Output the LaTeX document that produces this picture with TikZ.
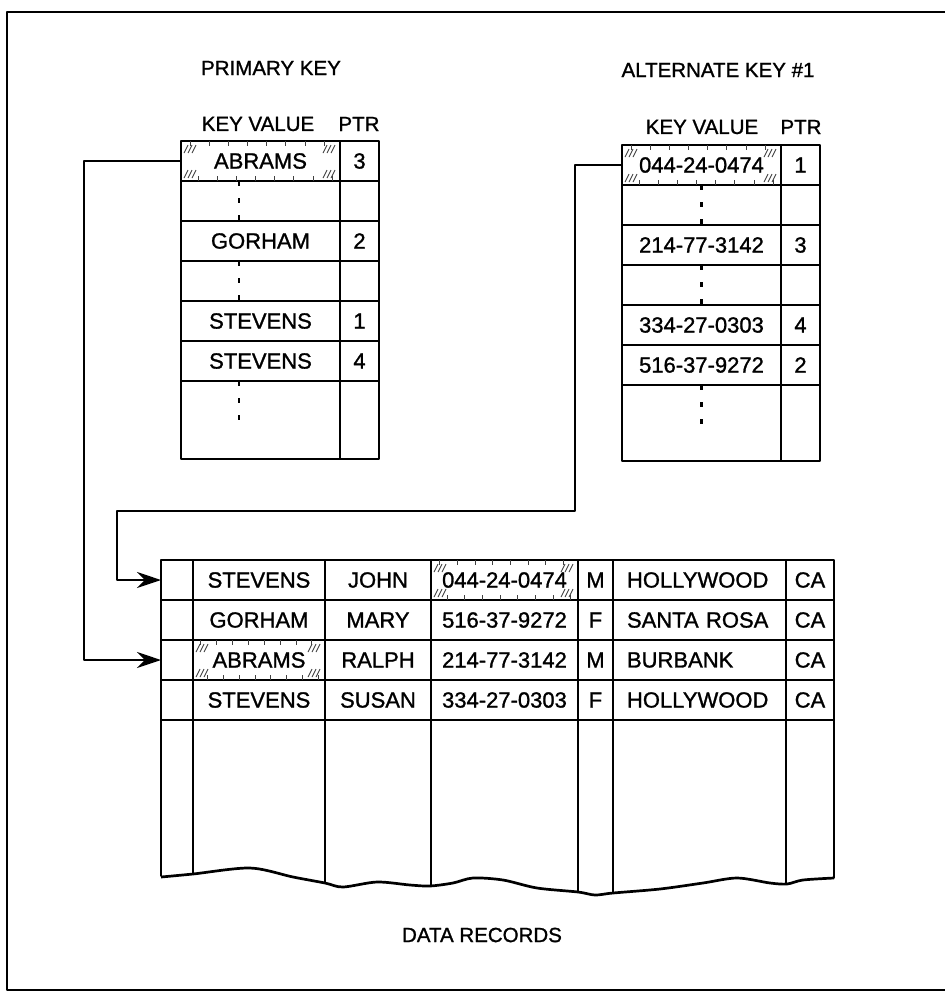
\documentclass[tikz,border=0pt]{standalone}
\usepackage{fontspec}
\setmainfont{Liberation Sans}[FakeBold=1.2]
\usetikzlibrary{arrows.meta,calc}

\newcommand\recfont{\fontsize{22}{26}\selectfont}
\newcommand\headfont{\fontsize{20.5}{24}\selectfont}

% faint hatch marks of a matched key cell
\newcommand\shadecell[1]{%
  \foreach \t in {0.06,0.18,...,0.95}{%
    \draw[hatch] ($(#1.north west)!\t!(#1.north east)$) -- ++(0,5);
    \draw[hatch] ($(#1.south west)!\t+0.05!(#1.south east)$) -- ++(0,-5);
  }
  \foreach \i in {0,1,2}{%
    \draw[hatch] ($(#1.north west)+(3+4*\i,12)$) -- ++(4,-8);
    \draw[hatch] ($(#1.south west)+(3+4*\i,-3)$) -- ++(4,-8);
    \draw[hatch] ($(#1.north east)+(-17+4*\i,12)$) -- ++(4,-8);
    \draw[hatch] ($(#1.south east)+(-17+4*\i,-3)$) -- ++(4,-8);
  }}

\tikzset{
  cell/.style={draw,line width=2.7pt,inner sep=0pt,outer sep=0pt,anchor=north west,font=\recfont},
  keycell/.style={cell,minimum width=159pt,minimum height=#1},
  keycell/.default=40pt,
  ptrcell/.style={cell,minimum width=39pt,minimum height=#1},
  ptrcell/.default=40pt,
  dcell/.style={cell,minimum width=#1,minimum height=40pt},
  citycell/.style={dcell=173pt,text width=145pt,align=left},
  dots/.style={line width=2.5pt,dash pattern=on 5pt off 12pt},
  hatch/.style={line width=0.9pt,black!75},
  rule/.style={line width=2.7pt},
  link/.style={line width=2.5pt,-{Stealth[length=24pt,width=16pt]}},
  head/.style={font=\headfont,inner sep=0pt},
}

\begin{document}
\begin{tikzpicture}[x=1pt,y=-1pt,line join=round]
\useasboundingbox (0,0) rectangle (945,1005);
\draw[line width=2.5pt] (950,12) -- (7,12) -- (7,990) -- (950,990);

% primary key index
\node[head] (phead) at (271,68) {PRIMARY KEY};
\node[head] (pkv) at (258,124) {KEY VALUE};
\node[head] (pptr) at (359,124) {PTR};
\node[keycell] (pk1) at (181,141) {ABRAMS};
\node[ptrcell] (pp1) at (pk1.north east) {3};
\node[keycell] (pk2) at (pk1.south west) {};
\node[ptrcell] (pp2) at (pk2.north east) {};
\node[keycell] (pk3) at (pk2.south west) {GORHAM};
\node[ptrcell] (pp3) at (pk3.north east) {2};
\node[keycell] (pk4) at (pk3.south west) {};
\node[ptrcell] (pp4) at (pk4.north east) {};
\node[keycell] (pk5) at (pk4.south west) {STEVENS};
\node[ptrcell] (pp5) at (pk5.north east) {1};
\node[keycell] (pk6) at (pk5.south west) {STEVENS};
\node[ptrcell] (pp6) at (pk6.north east) {4};
\node[keycell=78pt] (pk7) at (pk6.south west) {};
\node[ptrcell=78pt] (pp7) at (pk7.north east) {};
\draw[dots] ($(pk2.north west)+(58,0)$) -- ($(pk2.south west)+(58,0)$);
\draw[dots] ($(pk4.north west)+(58,0)$) -- ($(pk4.south west)+(58,0)$);
\draw[dots] ($(pk7.north west)+(58,0)$) -- ++(0,42);
\shadecell{pk1}

% alternate key index
\node[head] (ahead) at (718,70) {ALTERNATE KEY \#1};
\node[head] (akv) at (702,127) {KEY VALUE};
\node[head] (aptr) at (801,127) {PTR};
\node[keycell] (ak1) at (622,145) {044-24-0474};
\node[ptrcell] (ap1) at (ak1.north east) {1};
\node[keycell] (ak2) at (ak1.south west) {};
\node[ptrcell] (ap2) at (ak2.north east) {};
\node[keycell] (ak3) at (ak2.south west) {214-77-3142};
\node[ptrcell] (ap3) at (ak3.north east) {3};
\node[keycell] (ak4) at (ak3.south west) {};
\node[ptrcell] (ap4) at (ak4.north east) {};
\node[keycell] (ak5) at (ak4.south west) {334-27-0303};
\node[ptrcell] (ap5) at (ak5.north east) {4};
\node[keycell] (ak6) at (ak5.south west) {516-37-9272};
\node[ptrcell] (ap6) at (ak6.north east) {2};
\node[keycell=76pt] (ak7) at (ak6.south west) {};
\node[ptrcell=76pt] (ap7) at (ak7.north east) {};
\draw[dots] (ak2.north) -- (ak2.south);
\draw[dots] (ak4.north) -- (ak4.south);
\draw[dots] (ak7.north) -- ++(0,42);
\shadecell{ak1}

% data records
\foreach \ln/\fn/\ss/\sx/\ct [count=\i] in {STEVENS/JOHN/044-24-0474/M/HOLLYWOOD,
    GORHAM/MARY/516-37-9272/F/SANTA ROSA, ABRAMS/RALPH/214-77-3142/M/BURBANK,
    STEVENS/SUSAN/334-27-0303/F/HOLLYWOOD}{
  \node[dcell=32pt] (d\i0) at (161,{560+40*(\i-1)}) {};
  \node[dcell=132pt] (d\i1) at (d\i0.north east) {\ln};
  \node[dcell=106pt] (d\i2) at (d\i1.north east) {\fn};
  \node[dcell=147pt] (d\i3) at (d\i2.north east) {\ss};
  \node[dcell=35pt] (d\i4) at (d\i3.north east) {\sx};
  \node[citycell] (d\i5) at (d\i4.north east) {\ct};
  \node[dcell=48pt] (d\i6) at (d\i5.north east) {CA};
}
\shadecell{d31}
\shadecell{d13}
\begin{scope}
  \clip (150,718) -- plot[smooth] coordinates {(150,877) (193,874) (250,868) (293,877)
    (325,883) (343,887) (377,882) (410,885) (430,886) (453,883) (473,878) (503,880)
    (537,888) (578,892) (595,895) (613,893) (660,889) (703,883) (737,878) (770,883)
    (787,884) (803,880) (845,878)} -- (845,718) -- cycle;
  \foreach \c in {0,...,6} \draw[rule] (d4\c.south west) -- ++(0,190);
  \draw[rule] (d46.south east) -- ++(0,190);
\end{scope}
\draw[rule] plot[smooth] coordinates {(161,877) (193,874) (250,868) (293,877)
    (325,883) (343,887) (377,882) (410,885) (430,886) (453,883) (473,878) (503,880)
    (537,888) (578,892) (595,895) (613,893) (660,889) (703,883) (737,878) (770,883)
    (787,884) (803,880) (834,878)};
\node[head] (dlabel) at (482,935) {DATA RECORDS};

% pointers into the data file
\coordinate (altbus) at (117,511);
\draw[link] (pk1.west) -- ++(-97,0) |- (d30.west);
\draw[link] (ak1.west) -- ++(-47,0) |- (altbus) |- (d10.west);
\end{tikzpicture}
\end{document}
